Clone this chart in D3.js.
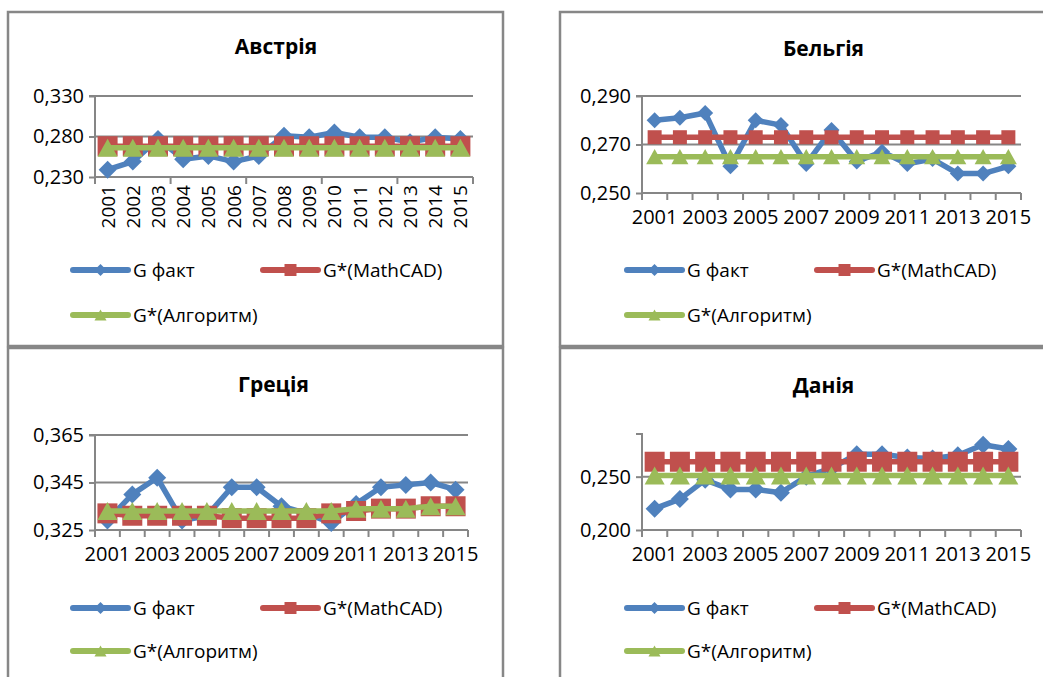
<!DOCTYPE html>
<html><head><meta charset="utf-8">
<script src="https://cdn.jsdelivr.net/npm/d3@7"></script>
<style>body{margin:0;background:#fff;} svg{display:block;}</style>
</head><body>
<svg id="chart" width="1043" height="677"></svg>
<script>
const years = ["2001","2002","2003","2004","2005","2006","2007","2008","2009","2010","2011","2012","2013","2014","2015"];
const seriesNames = ["G факт", "G*(MathCAD)", "G*(Алгоритм)"];
const titles = ["Австрія", "Бельгія", "Греція", "Данія"];

const austriaFact    = [0.239,0.249,0.277,0.252,0.256,0.249,0.256,0.281,0.279,0.285,0.279,0.279,0.273,0.279,0.277];
const austriaMathcad = [0.268,0.268,0.268,0.268,0.268,0.268,0.268,0.268,0.268,0.268,0.268,0.268,0.268,0.268,0.268];
const austriaAlg     = [0.266,0.266,0.266,0.266,0.266,0.266,0.266,0.266,0.266,0.266,0.266,0.266,0.266,0.266,0.266];

const belgiumFact    = [0.280,0.281,0.283,0.261,0.280,0.278,0.262,0.276,0.263,0.267,0.262,0.264,0.258,0.258,0.261];
const belgiumMathcad = [0.273,0.273,0.273,0.273,0.273,0.273,0.273,0.273,0.273,0.273,0.273,0.273,0.273,0.273,0.273];
const belgiumAlg     = [0.265,0.265,0.265,0.265,0.265,0.265,0.265,0.265,0.265,0.265,0.265,0.265,0.265,0.265,0.265];

const greeceFact     = [0.329,0.340,0.347,0.329,0.331,0.343,0.343,0.335,0.332,0.328,0.336,0.343,0.344,0.345,0.342];
const greeceMathcad  = [0.332,0.331,0.331,0.331,0.331,0.330,0.330,0.330,0.330,0.332,0.333,0.334,0.334,0.335,0.335];
const greeceAlg      = [0.333,0.333,0.333,0.333,0.333,0.333,0.333,0.333,0.333,0.333,0.334,0.334,0.334,0.335,0.335];

const denmarkFact    = [0.220,0.229,0.247,0.238,0.238,0.235,0.250,0.258,0.271,0.271,0.268,0.267,0.270,0.280,0.276];
const denmarkMathcad = [0.264,0.264,0.264,0.264,0.264,0.264,0.264,0.264,0.264,0.264,0.264,0.264,0.264,0.264,0.264];
const denmarkAlg     = [0.251,0.251,0.251,0.251,0.251,0.251,0.251,0.251,0.251,0.251,0.251,0.251,0.251,0.251,0.251];

const austriaTicks = [0.230, 0.280, 0.330];
const belgiumTicks = [0.250, 0.270, 0.290];
const greeceTicks  = [0.325, 0.345, 0.365];
const denmarkTicks = [0.200, 0.250];

const colors = ["#4F81BD", "#C0504D", "#9BBB59"];
const FONT = "'Open Sans', 'Noto Sans', sans-serif";
const GRID = "#868686";

const svg = d3.select("#chart");
const fmt = v => d3.format(".3f")(v).replace(".", ",");

const panels = [
  {title: titles[0], data: [austriaFact, austriaMathcad, austriaAlg], ticks: austriaTicks, domain: [0.23, 0.33],
   box: [8, 12, 495, 334], plot: [95, 473, 96, 177], titleY: 54, rotate: true, tickEvery: 3, labelEvery: 1, ms: [18, 20, 20],
   legY: [270, 315], legX: [73, 263]},
  {title: titles[1], data: [belgiumFact, belgiumMathcad, belgiumAlg], ticks: belgiumTicks, domain: [0.25, 0.29],
   box: [560, 12, 500, 334], plot: [642, 1021, 96, 193], titleY: 56, rotate: false, tickEvery: 1, labelEvery: 2, ms: [16, 14, 17],
   legY: [270, 315], legX: [627, 817]},
  {title: titles[2], data: [greeceFact, greeceMathcad, greeceAlg], ticks: greeceTicks, domain: [0.325, 0.365],
   box: [8, 348, 495, 360], plot: [95, 468, 435, 530], titleY: 392, rotate: false, tickEvery: 1, labelEvery: 2, ms: [18, 20, 20],
   legY: [608, 651], legX: [73, 263]},
  {title: titles[3], data: [denmarkFact, denmarkMathcad, denmarkAlg], ticks: denmarkTicks, domain: [0.20, 0.29],
   box: [560, 348, 500, 360], plot: [642, 1021, 434, 530], titleY: 393, rotate: false, tickEvery: 1, labelEvery: 2, ms: [18, 20, 20],
   legY: [608, 651], legX: [627, 817]}
];

function markerPath(type, s) {
  const h = s / 2;
  if (type === 0) return `M0,${-h}L${h},0L0,${h}L${-h},0Z`;
  if (type === 1) return `M${-h},${-h}H${h}V${h}H${-h}Z`;
  const th = s * 0.9;
  return `M0,${-th / 2}L${h},${th / 2}L${-h},${th / 2}Z`;
}

panels.forEach(p => {
  const g = svg.append("g");
  g.append("rect").attr("x", p.box[0]).attr("y", p.box[1]).attr("width", p.box[2]).attr("height", p.box[3])
    .attr("fill", "#fff").attr("stroke", "#878787").attr("stroke-width", 2.5);
  const [x0, x1, yT, yB] = p.plot;
  g.append("text").attr("x", (x0 + x1) / 2 - 8).attr("y", p.titleY).attr("text-anchor", "middle")
    .attr("font-family", FONT).attr("font-weight", "bold").attr("font-size", 21).attr("fill", "#000").text(p.title);

  const x = d3.scaleBand().domain(years).range([x0, x1]).padding(0);
  const y = d3.scaleLinear().domain(p.domain).range([yB, yT]);

  g.selectAll(".grid").data(p.ticks.slice(1)).join("line")
    .attr("x1", x0).attr("x2", x1).attr("y1", d => y(d)).attr("y2", d => y(d))
    .attr("stroke", GRID).attr("stroke-width", 2);

  const ya = d3.axisLeft(y).tickValues(p.ticks).tickFormat(fmt).tickSize(6).tickPadding(5);
  const yg = g.append("g").attr("transform", `translate(${x0},0)`).call(ya);
  yg.select(".domain").attr("stroke", GRID).attr("stroke-width", 2).attr("d", `M-6,${yT}H0V${yB}`);
  yg.selectAll(".tick line").attr("stroke", GRID).attr("stroke-width", 2);
  yg.selectAll(".tick text").attr("font-family", FONT).attr("font-size", 20).attr("fill", "#000");

  const bounds = d3.range(0, years.length + 1, p.tickEvery);
  g.append("line").attr("x1", x0).attr("x2", x1).attr("y1", yB).attr("y2", yB).attr("stroke", GRID).attr("stroke-width", 2);
  g.selectAll(".xt").data(bounds).join("line")
    .attr("x1", d => x0 + d * x.step()).attr("x2", d => x0 + d * x.step())
    .attr("y1", yB).attr("y2", yB + 7).attr("stroke", GRID).attr("stroke-width", 2);
  const labs = years.filter((d, i) => i % p.labelEvery === 0);
  if (p.rotate) {
    g.selectAll(".xl").data(labs).join("text")
      .attr("transform", d => `translate(${x(d) + x.bandwidth() / 2 + 7},${yB + 8}) rotate(-90)`)
      .attr("text-anchor", "end").attr("font-family", FONT).attr("font-size", 19).attr("fill", "#000").text(d => d);
  } else {
    g.selectAll(".xl").data(labs).join("text")
      .attr("x", d => x(d) + x.bandwidth() / 2).attr("y", yB + 31)
      .attr("text-anchor", "middle").attr("font-family", FONT).attr("font-size", 20).attr("fill", "#000").text(d => d);
  }

  const line = d3.line().x((d, i) => x(years[i]) + x.bandwidth() / 2).y(d => y(d));
  p.data.forEach((vals, si) => {
    g.append("path").datum(vals).attr("d", line).attr("fill", "none").attr("stroke", colors[si])
      .attr("stroke-width", 5.5).attr("stroke-linejoin", "round");
    g.selectAll(".m" + si).data(vals).join("path")
      .attr("transform", (v, i) => `translate(${x(years[i]) + x.bandwidth() / 2},${y(v)})`)
      .attr("d", markerPath(si, p.ms[si])).attr("fill", colors[si]);
  });

  const legPos = [[p.legX[0], p.legY[0]], [p.legX[1], p.legY[0]], [p.legX[0], p.legY[1]]];
  seriesNames.forEach((name, si) => {
    const [lx, ly] = legPos[si];
    g.append("line").attr("x1", lx).attr("x2", lx + 55).attr("y1", ly).attr("y2", ly)
      .attr("stroke", colors[si]).attr("stroke-width", 6).attr("stroke-linecap", "round");
    g.append("path").attr("transform", `translate(${lx + 27.5},${ly})`)
      .attr("d", markerPath(si, 12)).attr("fill", colors[si]);
    g.append("text").attr("x", lx + 60).attr("y", ly).attr("dy", "0.35em")
      .attr("font-family", FONT).attr("font-size", 19).attr("fill", "#000").text(name);
  });
});
</script>
</body></html>
